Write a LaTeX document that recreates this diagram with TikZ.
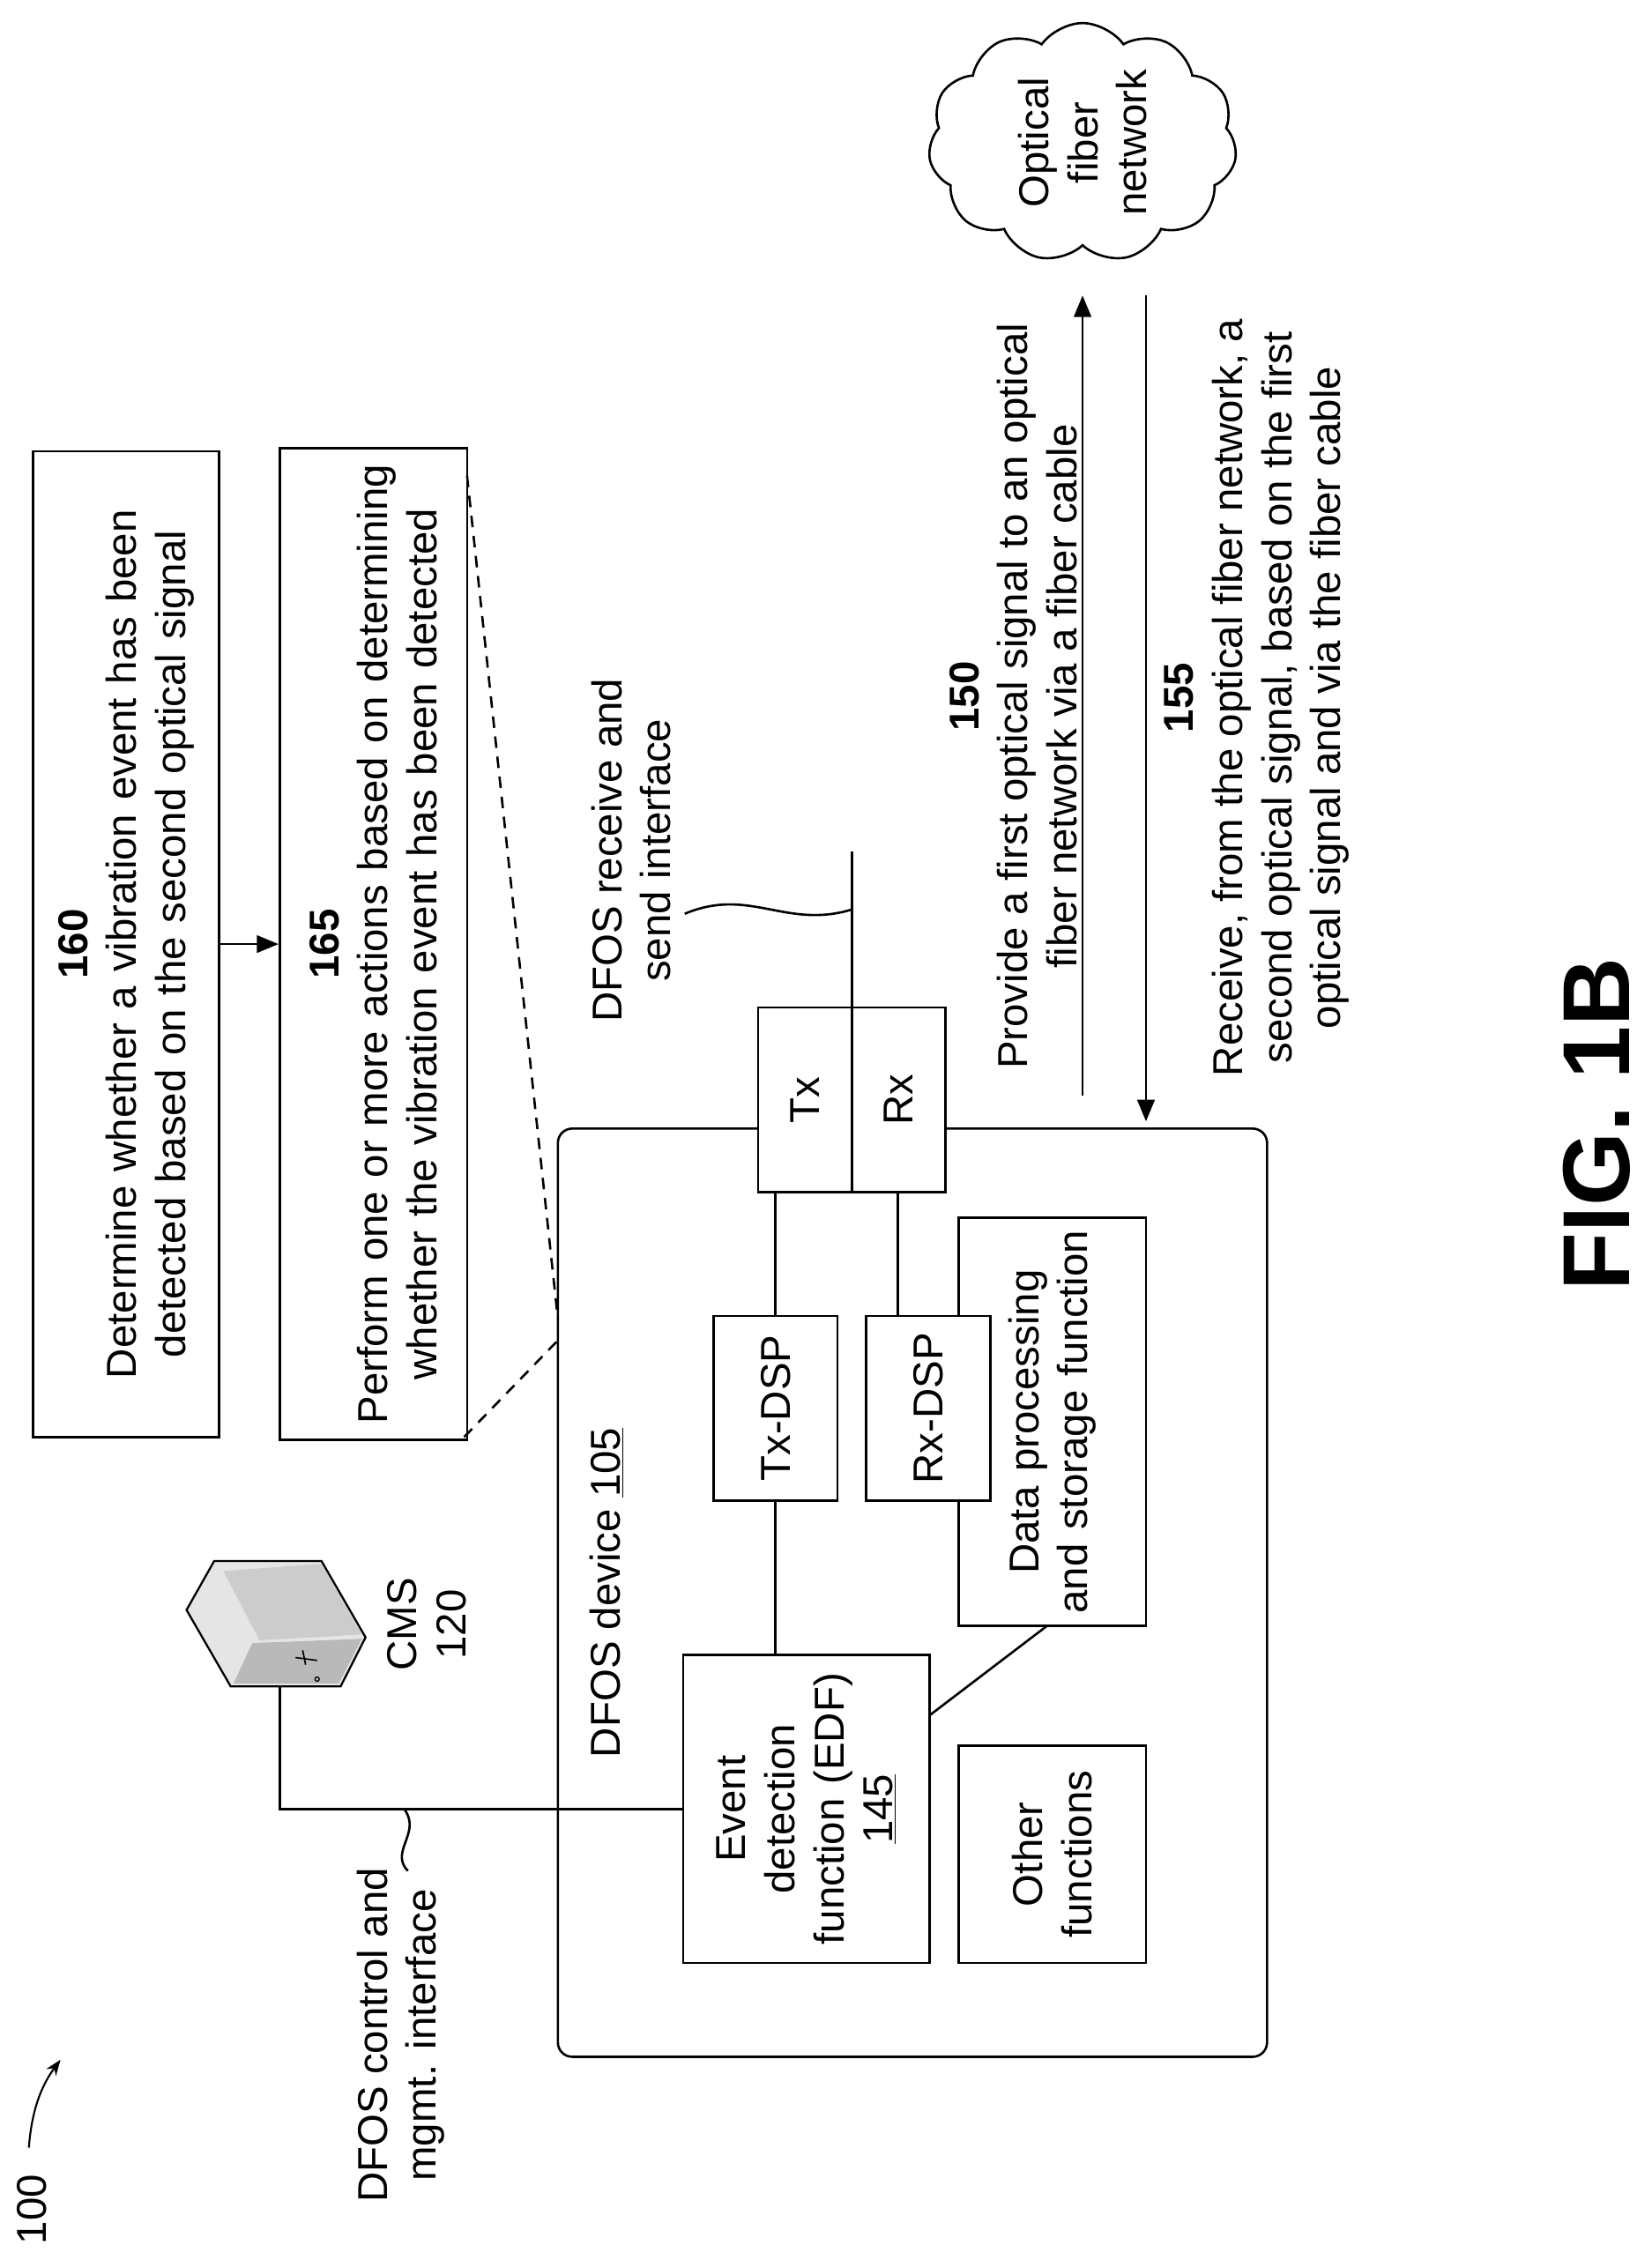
\documentclass[tikz,border=0pt]{standalone}
\usepackage{fontspec}
\setmainfont{Liberation Sans}
\usetikzlibrary{shapes.symbols,backgrounds,arrows.meta}
\begin{document}
\begin{tikzpicture}[x=1pt,y=-1pt,
  every node/.style={font=\fontsize{29}{34}\selectfont},
  box/.style={draw,line width=1.6pt,fill=white,rotate=90,align=center,inner sep=4pt},
  ln/.style={line width=1.6pt},
  arr/.style={line width=1.6pt,-{Triangle[length=15pt,width=12pt]}},
  lbl/.style={rotate=90,align=center}]
\useasboundingbox (0,0) rectangle (1146,1568);
% boxes 160/165
\node[box,minimum width=684,minimum height=129,text width=670] (b160) at (87.5,655)
 {\textbf{160}\\Determine whether a vibration event has been\\detected based on the second optical signal};
\node[box,minimum width=684,minimum height=130,text width=680] (b165) at (259,655)
 {\textbf{165}\\Perform one or more actions based on determining\\whether the vibration event has been detected};
\draw[arr] (b160) -- (b165);
% device
\node[box,fill=none,rounded corners=10pt,minimum width=644,minimum height=492] (dev) at (633,1105) {};
\node[lbl] (devlbl) at (421,1105) {DFOS device \underline{105}};
\node[box,minimum width=214,minimum height=171,text width=205] (edf) at (559.5,1255)
 {Event\\detection\\function (EDF)\\\underline{145}};
\node[box,minimum width=151,minimum height=130,text width=140] (oth) at (730,1286.5) {Other\\functions};
\node[box,minimum width=279,minimum height=130,text width=275] (dps) at (730,986.5) {Data processing\\and storage function};
\node[box,minimum width=128,minimum height=86] (txdsp) at (538,977) {Tx-DSP};
\node[box,minimum width=128,minimum height=86] (rxdsp) at (644,977) {Rx-DSP};
\node[box,minimum width=128,minimum height=65] (tx) at (558.5,763) {Tx};
\node[box,minimum width=128,minimum height=65] (rx) at (623.5,763) {Rx};
\coordinate (top) at (591,591);
\coordinate (cmsc) at (194,1255);
\coordinate (cmsb) at (194,1170);
\begin{scope}[on background layer]
\draw[ln] (txdsp) -- (txdsp |- edf);
\draw[ln] (txdsp) -- (txdsp |- tx);
\draw[ln] (623,977) -- (623,763);
\draw[ln] (top) -- (591,763);
\draw[ln] (645,1190) -- (729,1126);
\draw[ln] (cmsb) -- (cmsc) -- (edf);
\end{scope}
\draw[ln,dash pattern=on 8pt off 6pt] (324,330) -- (387,915);
\draw[ln,dash pattern=on 8pt off 6pt] (322,997) -- (387,930);
% CMS icon
\filldraw[fill=gray!20,draw=black,line width=1.4pt] (148.6,1083) -- (223,1083) -- (253.6,1136) -- (236.3,1170) -- (160,1170) -- (129.4,1117) -- cycle;
\fill[gray!55] (162,1168) -- (235,1168) -- (251,1137) -- (175,1140) -- cycle;
\fill[gray!40] (223,1085) -- (251,1134) -- (180,1138) -- (155,1090) -- cycle;
\draw[line width=1pt] (210,1145) -- (212,1155) (205,1150) -- (220,1152);
\draw[line width=0.8pt] (220,1165) circle (1.5);
\node[lbl] (cmslbl) at (296,1127) {CMS\\120};
% labels
\node[lbl] (ctl) at (278,1412) {DFOS control and\\mgmt. interface};
\draw[ln] (283,1298) .. controls (270,1285) and (292,1272) .. (281,1256);
\node[lbl] (rs) at (438,590) {DFOS receive and\\send interface};
\draw[ln] (475,634) .. controls (520,615) and (545,645) .. (591,631);
\node[lbl] (ref) at (22,1533) {100};
\draw[line width=1.3pt,-{Stealth[length=11pt]}] (20,1490) .. controls (22,1465) and (28,1448) .. (42,1429);
% arrows and texts
\draw[arr] (751,760) -- (751,205);
\draw[arr] (795,205) -- (795,778);
\node[lbl] (t150) at (703,483) {\textbf{150}\\Provide a first optical signal to an optical\\fiber network via a fiber cable};
\node[lbl] (t155) at (872,484) {\textbf{155}\\Receive, from the optical fiber network, a\\second optical signal, based on the first\\optical signal and via the fiber cable};
\node[cloud,draw,line width=1.6pt,cloud puffs=11,cloud puff arc=110,minimum width=214,minimum height=166] (cloud) at (751,99) {};
\node[lbl] at (cloud) {Optical\\fiber\\network};
\node[lbl,font=\fontsize{66}{72}\selectfont\bfseries] (fig) at (1108,780) {FIG. 1B};
\end{tikzpicture}
\end{document}
